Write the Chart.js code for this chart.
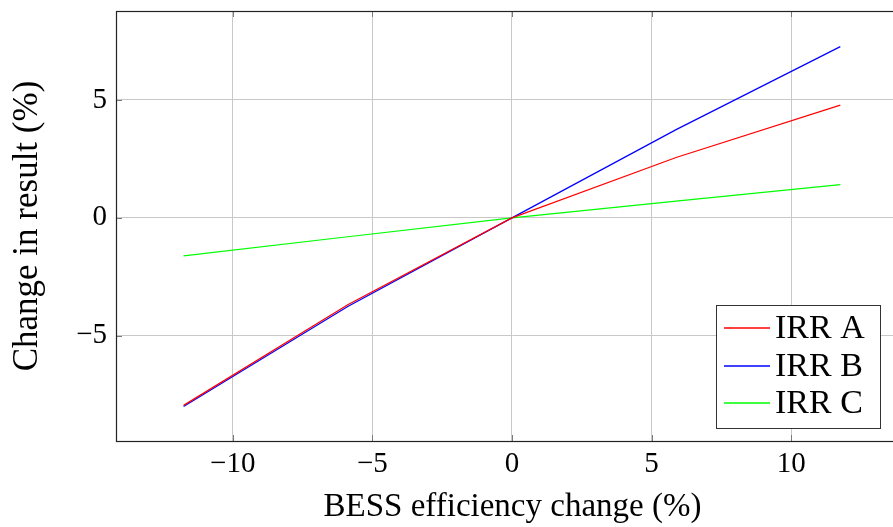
<!DOCTYPE html>
<html>
<head>
<meta charset="utf-8">
<script src="https://cdn.jsdelivr.net/npm/chart.js@4.4.1/dist/chart.umd.min.js"></script>
<style>
  html, body { margin: 0; padding: 0; background: #fff; overflow: hidden; }
</style>
</head>
<body>
<canvas id="sensChart" width="912" height="527"></canvas>
<script>
// efficiency change steps (%)
const efficiencyChange = [-11.76, -5.88, 0, 5.88, 11.76];

// change in result (%) per series
const irrA = [-7.95, -3.68, 0, 2.56, 4.78];
const irrB = [-8.0, -3.76, 0, 3.74, 7.26];
const irrC = [-1.61, -0.80, 0, 0.71, 1.41];

const seriesNames = ['IRR A', 'IRR B', 'IRR C'];
const seriesColors = ['#ff0000', '#0000ff', '#00ff00'];

const xTicks = [-10, -5, 0, 5, 10];
const yTicks = [-5, 0, 5];

const FONT = "'Liberation Serif', 'DejaVu Serif', serif";

function toPoints(ys) {
    return efficiencyChange.map((x, i) => ({ x: x, y: ys[i] }));
}

// frame round the plot plus the small inner tick marks
const framePlugin = {
    id: 'frame',
    afterDraw(chart) {
        const ctx = chart.ctx;
        const a = chart.chartArea;
        const xs = chart.scales.x;
        const ys = chart.scales.y;
        ctx.save();
        ctx.strokeStyle = '#7a7a7a';
        ctx.lineWidth = 1;
        ctx.beginPath();
        xTicks.forEach(t => {
            const px = Math.round(xs.getPixelForValue(t)) + 0.5;
            ctx.moveTo(px, a.top); ctx.lineTo(px, a.top + 6);
            ctx.moveTo(px, a.bottom); ctx.lineTo(px, a.bottom - 6);
        });
        yTicks.forEach(t => {
            const py = Math.round(ys.getPixelForValue(t)) + 0.5;
            ctx.moveTo(a.left, py); ctx.lineTo(a.left + 6, py);
            ctx.moveTo(a.right, py); ctx.lineTo(a.right - 6, py);
        });
        ctx.stroke();
        ctx.strokeStyle = '#222';
        ctx.lineWidth = 1.2;
        ctx.strokeRect(Math.round(a.left) + 0.5, Math.round(a.top) + 0.5,
            Math.round(a.right - a.left), Math.round(a.bottom - a.top));
        ctx.restore();
    }
};

// legend box in the lower right corner of the plot
const legendBoxPlugin = {
    id: 'legendBox',
    afterDraw(chart) {
        const ctx = chart.ctx;
        const left = 716, top = 305, w = 164, h = 123;
        ctx.save();
        ctx.fillStyle = '#fff';
        ctx.fillRect(left, top, w, h);
        ctx.strokeStyle = '#333';
        ctx.lineWidth = 1;
        ctx.strokeRect(left + 0.5, top + 0.5, w, h);
        ctx.font = '34px ' + FONT;
        ctx.textBaseline = 'middle';
        chart.data.datasets.forEach((ds, i) => {
            const cy = Math.round(top + 23 + i * 37.5);
            ctx.strokeStyle = ds.borderColor;
            ctx.lineWidth = 1.5;
            ctx.beginPath();
            ctx.moveTo(724, cy);
            ctx.lineTo(770, cy);
            ctx.stroke();
            ctx.fillStyle = '#000';
            ctx.fillText(ds.label, 775, cy + 1);
        });
        ctx.restore();
    }
};

function createChart() {
    const data = [irrA, irrB, irrC];
    const ctx = document.getElementById('sensChart').getContext('2d');
    new Chart(ctx, {
        type: 'line',
        data: {
            datasets: data.map((ys, i) => ({
                label: seriesNames[i],
                data: toPoints(ys),
                borderColor: seriesColors[i],
                borderWidth: 1.2,
                pointRadius: 0,
                fill: false,
                tension: 0,
            })),
        },
        options: {
            responsive: false,
            animation: false,
            devicePixelRatio: 1,
            layout: { padding: { left: 0, top: 11, right: 3, bottom: 0 } },
            plugins: {
                legend: { display: false },
                tooltip: { enabled: false },
            },
            scales: {
                x: {
                    type: 'linear',
                    min: -14.18,
                    max: 14.22,
                    afterBuildTicks: s => { s.ticks = xTicks.map(v => ({ value: v })); },
                    afterFit: s => { s.height = 86; s.paddingLeft = 0; s.paddingRight = 0; },
                    ticks: {
                        color: '#000',
                        padding: 6,
                        font: { family: FONT, size: 29 },
                        callback: v => (v < 0 ? '\u2212' + Math.abs(v) : String(v)),
                    },
                    grid: { color: '#c8c8c8', lineWidth: 1, drawTicks: false },
                    border: { display: false },
                    title: {
                        display: true,
                        text: 'BESS efficiency change (%)',
                        color: '#000',
                        font: { family: FONT, size: 33 },
                        padding: { top: 0, bottom: 0 },
                    },
                },
                y: {
                    type: 'linear',
                    min: -9.46,
                    max: 8.77,
                    afterBuildTicks: s => { s.ticks = yTicks.map(v => ({ value: v })); },
                    afterFit: s => { s.width = 116; s.paddingTop = 0; s.paddingBottom = 0; },
                    ticks: {
                        color: '#000',
                        padding: 9,
                        font: { family: FONT, size: 29 },
                        callback: v => (v < 0 ? '\u2212' + Math.abs(v) : String(v)),
                    },
                    grid: { color: '#c8c8c8', lineWidth: 1, drawTicks: false },
                    border: { display: false },
                    title: {
                        display: true,
                        text: 'Change in result (%)',
                        color: '#000',
                        font: { family: FONT, size: 35 },
                        padding: { top: 7, bottom: 0 },
                    },
                },
            },
        },
        plugins: [framePlugin, legendBoxPlugin],
    });
}

window.addEventListener('load', createChart);
</script>
</body>
</html>
